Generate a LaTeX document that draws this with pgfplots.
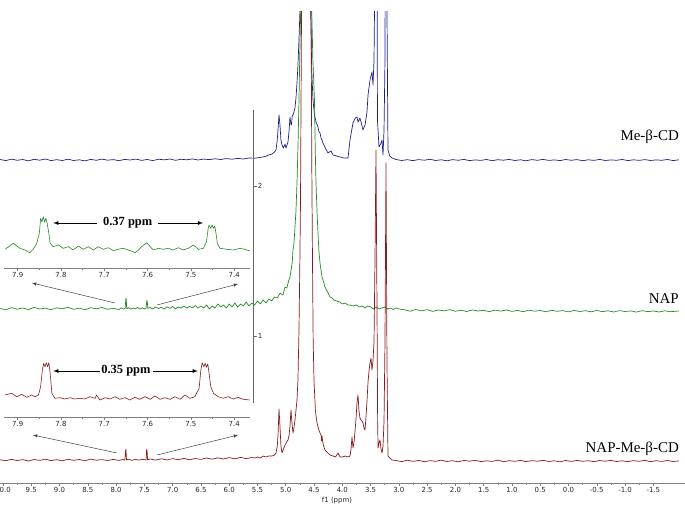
\documentclass[border=0pt]{standalone}
\usepackage{fontspec}
\setmainfont{Liberation Serif}
\newfontfamily\tickfont{DejaVu Sans}
\usepackage{pgfplots}
\usepackage{pgfplotstable}
\pgfplotsset{compat=1.18}
\definecolor{cdblue}{HTML}{1E1E8C}
\definecolor{napgreen}{HTML}{238B23}
\definecolor{cpxred}{HTML}{8B1A1A}
\definecolor{axgray}{HTML}{808080}

% heights above each trace's own baseline (px-like units)
\pgfplotstableread{
ppm h
10.05 0.5
9.95 -0.6
9.85 0.9
9.75 -0.3
9.65 0.5
9.55 -0.9
9.45 0.7
9.35 -0.2
9.25 1.0
9.15 -0.6
9.05 0.3
8.95 -0.5
8.85 0.8
8.75 -0.5
8.65 0.2
8.55 -0.9
8.45 0.6
8.35 -0.3
8.25 0.9
8.15 -0.2
8.05 0.4
7.95 -0.7
7.85 0.6
7.75 0.0
7.65 0.9
7.55 -0.4
7.45 0.5
7.35 -0.6
7.25 0.8
7.15 0.1
7.05 1.0
6.95 -0.3
6.85 0.7
6.75 0.2
6.65 1.1
6.55 0.0
6.45 0.9
6.35 0.4
6.25 1.2
6.15 0.5
6.05 1.4
5.95 0.8
5.85 1.6
5.75 1.0
5.65 2.0
5.55 1.8
5.45 2.6
5.367 3.5
5.30 5
5.243 6
5.20 8
5.172 10
5.150 20
5.137 30
5.119 45
5.102 35
5.085 20
5.066 15
5.040 12
5.013 16
4.996 12
4.960 18
4.940 30
4.925 43
4.910 36
4.898 35
4.885 44
4.872 45
4.855 48
4.837 52
4.819 62
4.800 78
4.784 95
4.766 120
4.748 150
4.730 260
4.690 700
4.640 1000
4.590 700
4.559 150
4.541 90
4.518 60
4.492 45
4.465 38
4.430 33
4.412 28
4.394 27
4.376 22
4.359 20
4.341 17
4.300 12
4.253 7
4.200 9
4.164 5
4.100 4
4.041 3
3.970 2
3.899 2
3.864 20
3.811 37
3.770 42
3.740 43
3.722 38
3.687 42
3.660 36
3.634 30
3.598 35
3.563 48
3.545 65
3.510 80
3.475 88
3.457 75
3.439 100
3.422 200
3.404 500
3.386 200
3.378 40
3.351 13
3.315 17
3.298 20
3.280 5
3.262 30
3.245 100
3.227 500
3.210 150
3.192 10
3.160 4
3.121 2
3.05 0.5
2.95 -0.5
2.85 0.3
2.75 -0.6
2.65 0.4
2.55 -0.2
2.45 0.7
2.35 -0.5
2.25 0.2
2.15 -0.8
2.05 0.4
1.95 -0.3
1.85 0.6
1.75 -0.6
1.65 0.1
1.55 -0.4
1.45 0.5
1.35 -0.7
1.25 0.3
1.15 -0.2
1.05 0.6
0.95 -0.5
0.85 0.2
0.75 -0.8
0.65 0.4
0.55 -0.3
0.45 0.6
0.35 -0.4
0.25 0.1
0.15 -0.6
0.05 0.5
-0.05 -0.3
-0.15 0.4
-0.25 -0.7
-0.35 0.2
-0.45 -0.4
-0.55 0.6
-0.65 -0.5
-0.75 0.1
-0.85 -0.3
-0.95 0.5
-1.05 -0.6
-1.15 0.2
-1.25 -0.4
-1.35 0.4
-1.45 -0.5
-1.55 0.1
-1.65 -0.3
-1.75 0.5
-1.85 -0.6
-1.95 0.2
}\mecd

\pgfplotstableread{
ppm h
10.05 1.5
9.95 0.2
9.85 2.4
9.75 0.8
9.65 2.0
9.55 0.4
9.45 2.6
9.35 1.0
9.25 1.8
9.15 0.3
9.05 2.2
8.95 1.1
8.85 2.7
8.75 0.6
8.65 1.9
8.55 0.2
8.45 2.3
8.35 1.2
8.25 2.5
8.15 0.7
8.05 1.7
7.95 0.5
7.90 2.2
7.87 1.0
7.84 1.5
7.828 11
7.822 11.5
7.812 1.2
7.78 2.3
7.74 0.8
7.70 2.0
7.66 1.1
7.62 2.6
7.58 0.9
7.54 2.2
7.50 1.0
7.47 2.0
7.456 9.5
7.448 8
7.438 1.5
7.40 2.5
7.35 1.0
7.30 3.0
7.25 1.5
7.20 2.8
7.15 0.9
7.10 3.2
7.05 1.6
7.00 3.5
6.95 1.2
6.90 3.0
6.85 2.0
6.80 4.0
6.75 1.8
6.70 3.6
6.65 2.2
6.60 4.4
6.55 1.9
6.50 4.0
6.45 2
6.40 5
6.35 1
6.30 4
6.25 2
6.20 6
6.15 3
6.10 5
6.05 2
6.00 6
5.95 3
5.90 7
5.85 3
5.80 6
5.75 4
5.70 8
5.65 4
5.60 7
5.55 5
5.50 9
5.45 6
5.40 10
5.35 7
5.30 11
5.25 9
5.20 13
5.15 12
5.10 17
5.05 15
5.013 23
4.98 22
4.95 29
4.925 33
4.90 42
4.885 48
4.872 60
4.855 66
4.837 83
4.820 98
4.801 127
4.785 160
4.766 210
4.750 260
4.736 300
4.700 800
4.640 1200
4.580 800
4.541 300
4.520 250
4.492 210
4.478 160
4.465 127
4.448 100
4.430 77
4.412 58
4.394 47
4.376 40
4.359 33
4.335 29
4.306 23
4.280 20
4.250 17
4.217 13
4.180 12
4.150 10
4.100 9
4.041 8
4.00 6
3.95 7
3.90 5
3.864 5
3.80 4
3.75 5
3.70 3
3.65 4
3.60 2
3.55 4
3.50 3
3.45 1
3.40 3
3.35 1
3.30 2
3.25 3
3.20 1
3.15 2
3.10 0.5
3.05 2
3.00 1
2.9 0.2
2.8 -1.2
2.7 0.5
2.6 -0.8
2.5 0.3
2.4 -1.4
2.3 0.0
2.2 -0.9
2.1 0.4
2.0 -1.3
1.9 -0.2
1.8 -1.5
1.7 0.1
1.6 -1.0
1.5 -0.3
1.4 -1.6
1.3 -0.1
1.2 -1.1
1.1 0.0
1.0 -1.4
0.9 -0.4
0.8 -1.7
0.7 -0.2
0.6 -1.2
0.5 -0.5
0.4 -1.8
0.3 -0.3
0.2 -1.3
0.1 -0.6
0.0 -1.9
-0.1 -0.4
-0.2 -1.5
-0.3 -0.7
-0.4 -1.8
-0.5 -0.5
-0.6 -1.6
-0.7 -0.8
-0.8 -2.0
-0.9 -0.6
-1.0 -1.5
-1.1 -0.9
-1.2 -2.1
-1.3 -0.7
-1.4 -1.6
-1.5 -1.0
-1.6 -2.0
-1.7 -0.8
-1.8 -1.7
-1.95 -1.0
}\nap

\pgfplotstableread{
ppm h
10.05 1.2
9.95 0.3
9.85 1.6
9.75 0.5
9.65 1.4
9.55 0.0
9.45 1.5
9.35 0.6
9.25 1.8
9.15 0.4
9.05 1.3
8.95 0.2
8.85 1.7
8.75 0.7
8.65 1.5
8.55 0.3
8.45 1.9
8.35 0.8
8.25 1.4
8.15 0.5
8.05 1.6
7.95 0.6
7.88 1.5
7.845 0.8
7.832 10
7.826 12
7.816 1.0
7.78 1.8
7.72 0.6
7.66 1.6
7.60 0.9
7.53 1.7
7.47 1.0
7.459 12
7.452 10
7.443 1.2
7.40 2.0
7.30 0.9
7.20 2.2
7.10 1.0
7.00 2.4
6.90 1.3
6.80 2.6
6.70 1.2
6.60 2.5
6.50 1.6
6.40 3.0
6.30 1.8
6.20 3.2
6.10 2.0
6.00 3.4
5.90 2.2
5.80 3.6
5.70 2.4
5.60 3.5
5.544 3
5.50 4
5.45 3
5.40 5
5.35 4
5.30 5
5.243 5
5.20 6
5.172 8
5.150 15
5.137 25
5.119 52
5.102 35
5.085 15
5.066 8
5.040 12
5.013 16
4.985 19
4.960 21
4.940 26
4.925 35
4.907 51
4.890 38
4.872 28
4.855 33
4.837 41
4.820 50
4.801 61
4.784 81
4.766 130
4.750 200
4.739 260
4.720 460
4.700 900
4.640 2000
4.580 900
4.553 460
4.540 300
4.527 200
4.515 120
4.500 80
4.475 50
4.447 38
4.420 32
4.394 28
4.376 26
4.367 20
4.359 25
4.345 19
4.330 15
4.306 11
4.253 8
4.217 6
4.164 5
4.120 4
4.076 8
4.040 4
4.000 4
3.950 5
3.900 4
3.864 5
3.845 12
3.829 24
3.810 13
3.790 20
3.760 40
3.740 58
3.722 66
3.705 50
3.687 43
3.670 41
3.652 40
3.634 38
3.616 33
3.598 31
3.580 45
3.563 60
3.545 79
3.528 90
3.510 98
3.492 103
3.475 91
3.457 100
3.439 120
3.422 200
3.404 311
3.386 150
3.375 40
3.368 13
3.351 18
3.333 21
3.315 12
3.298 8
3.280 15
3.262 40
3.245 120
3.227 298
3.210 100
3.192 5
3.157 3
3.121 1
3.05 0.5
2.95 -0.6
2.85 0.8
2.75 -0.4
2.65 0.6
2.55 -0.7
2.45 0.4
2.35 -0.3
2.25 0.9
2.15 -0.5
2.05 0.3
1.95 -0.8
1.85 0.6
1.75 -0.2
1.65 0.7
1.55 -0.6
1.45 0.2
1.35 -0.4
1.25 0.8
1.15 -0.7
1.05 0.3
0.95 -0.3
0.85 0.6
0.75 -0.6
0.65 0.4
0.55 -0.2
0.45 0.7
0.35 -0.5
0.25 0.2
0.15 -0.8
0.05 0.5
-0.05 -0.4
-0.15 0.6
-0.25 -0.3
-0.35 0.3
-0.45 -0.7
-0.55 0.5
-0.65 -0.2
-0.75 0.6
-0.85 -0.5
-0.95 0.2
-1.05 -0.6
-1.15 0.4
-1.25 -0.3
-1.35 0.6
-1.45 -0.6
-1.55 0.3
-1.65 -0.4
-1.75 0.5
-1.85 -0.5
-1.95 0.1
}\cpx

% expanded 7.36-7.93 ppm region, heights above inset axis line
\pgfplotstableread{
ppm h
7.929 18.7
7.910 24.7
7.895 19.7
7.883 18
7.872 15.3
7.864 18.7
7.856 24.7
7.850 34.7
7.847 49.7
7.844 46
7.841 51.3
7.838 46
7.835 49.7
7.832 44.7
7.828 34.7
7.825 24.7
7.818 21.3
7.806 23
7.795 19.7
7.783 21.3
7.772 18
7.760 22
7.748 18.7
7.737 21.3
7.725 18
7.714 21.3
7.702 18.7
7.691 20.3
7.679 17.3
7.668 18.7
7.656 19.7
7.645 18
7.633 16.3
7.629 15.3
7.621 18
7.614 21.3
7.602 25.3
7.594 21.3
7.587 18
7.575 19.7
7.564 18.7
7.552 19.7
7.541 18
7.529 20.3
7.518 18
7.506 19.7
7.494 23
7.483 18.7
7.471 19.7
7.464 26.3
7.460 39.7
7.458 43
7.454 39.7
7.451 43
7.448 39.7
7.445 42
7.442 34.7
7.439 24.7
7.433 19.7
7.417 18.7
7.402 18
7.387 19.7
7.375 18.7
7.364 17
}\napzoom

\pgfplotstableread{
ppm h
7.929 22
7.914 23.7
7.902 20.3
7.891 22.7
7.879 19.7
7.868 22
7.860 20.3
7.852 22
7.847 30.3
7.843 47
7.840 53.7
7.837 50.3
7.834 54.3
7.831 50.3
7.828 54.3
7.825 43.7
7.821 23.7
7.814 18.7
7.802 19.3
7.791 18
7.779 19.3
7.768 18
7.756 18.7
7.745 18
7.733 20.3
7.721 18.7
7.718 22
7.710 17
7.698 19.3
7.687 18
7.675 20.3
7.664 17.7
7.652 19.3
7.641 17
7.629 19.7
7.618 17.7
7.606 20.3
7.594 17.7
7.583 21
7.571 17.7
7.560 19.3
7.548 17.7
7.537 20.3
7.525 17.7
7.514 22
7.502 18.7
7.491 20.3
7.481 28.7
7.477 47
7.474 54.3
7.470 50.3
7.467 53.7
7.464 49.7
7.461 53
7.458 43.7
7.454 30.3
7.448 23.7
7.437 20.3
7.425 18.7
7.414 20.3
7.402 18
7.391 19.7
7.379 17.7
7.364 17
}\cpxzoom

\begin{document}
\begin{tikzpicture}[line join=round]
\pgfplotsset{
  nmrx/.style={
    x dir=reverse, scale only axis,
    axis x line*=bottom, axis y line=none,
    axis line style={axgray, line width=0.6bp},
    tick style={axgray, line width=0.5bp},
    tick align=outside, major tick length=3bp, minor tick length=2bp,
    minor x tick num=1,
    xticklabel style={font=\tickfont\fontsize{7}{8}\selectfont, text=black!85, inner sep=1.5bp},
    /pgf/number format/fixed, /pgf/number format/fixed zerofill,
    /pgf/number format/precision=1, /pgf/number format/assume math mode=true,
  },
}
% main spectrum: axis box lower-left corner sits at (0,0)
\begin{axis}[nmrx, at={(0bp,0bp)}, anchor=south west, width=685bp, height=471bp,
  xmin=-2.06, xmax=10.053, ymin=0, ymax=471,
  xtick={-1.5,-1,...,10}]
  \addplot[cdblue, line width=0.7bp] table[x=ppm, y expr=\thisrow{h}+323] {\mecd};
  \addplot[napgreen, line width=0.7bp] table[x=ppm, y expr=\thisrow{h}+173] {\nap};
  \addplot[cpxred, line width=0.7bp] table[x=ppm, y expr=\thisrow{h}+22] {\cpx};
\end{axis}

% insets
\begin{axis}[nmrx, at={(4bp,215bp)}, anchor=south west,
  width=246bp, height=60bp, xmin=7.3635, xmax=7.9316, ymin=0, ymax=60,
  xtick={7.4,7.5,7.6,7.7,7.8,7.9}]
  \addplot[napgreen, line width=0.6bp] table[x=ppm, y=h] {\napzoom};
  \draw[-latex, line width=0.8bp] (axis cs:7.717,45) -- (axis cs:7.818,45);
  \draw[-latex, line width=0.8bp] (axis cs:7.576,45) -- (axis cs:7.472,45);
  \node[font=\bfseries\fontsize{12.5}{14}\selectfont] at (axis cs:7.646,45) {0.37 ppm};
\end{axis}
\begin{axis}[nmrx, at={(4bp,66bp)}, anchor=south west,
  width=246bp, height=60bp, xmin=7.3635, xmax=7.9316, ymin=0, ymax=60,
  xtick={7.4,7.5,7.6,7.7,7.8,7.9}]
  \addplot[cpxred, line width=0.6bp] table[x=ppm, y=h] {\cpxzoom};
  \draw[-latex, line width=0.8bp] (axis cs:7.710,46) -- (axis cs:7.818,46);
  \draw[-latex, line width=0.8bp] (axis cs:7.588,46) -- (axis cs:7.484,46);
  \node[font=\bfseries\fontsize{12.5}{14}\selectfont] at (axis cs:7.650,46) {0.35 ppm};
\end{axis}

% pointers from the peaks to the expanded regions
\begin{scope}[black!75, line width=0.5bp, -latex]
  \draw (115bp,180bp) -- (32bp,200bp);
  \draw (157bp,178bp) -- (238bp,199bp);
  \draw (117bp,30bp) -- (33bp,48bp);
  \draw (157bp,28bp) -- (238bp,48bp);
\end{scope}

% intensity scale
\draw[black!60, line width=0.6bp] (253bp,80bp) -- (253bp,373bp);
\draw[black!60, line width=0.5bp] (253bp,297bp) -- ++(3.5bp,0)
  node[right, inner sep=1bp, text=black!85, font=\tickfont\fontsize{7}{8}\selectfont] {2};
\draw[black!60, line width=0.5bp] (253bp,147bp) -- ++(3.5bp,0)
  node[right, inner sep=1bp, text=black!85, font=\tickfont\fontsize{7}{8}\selectfont] {1};

\node[anchor=base, font=\tickfont\fontsize{7}{8}\selectfont, text=black!85] at (337bp,-19bp) {f1 (ppm)};

\begin{scope}[font=\fontsize{15}{18}\selectfont]
  \node[anchor=base east, inner sep=0pt] at (679bp,342bp) {Me-β-CD};
  \node[anchor=base east, inner sep=0pt] at (679bp,179bp) {NAP};
  \node[anchor=base east, inner sep=0pt] at (679bp,31bp) {NAP-Me-β-CD};
\end{scope}

\pgfresetboundingbox
\path (0bp,-23bp) rectangle (685bp,483bp);
\end{tikzpicture}
\end{document}
